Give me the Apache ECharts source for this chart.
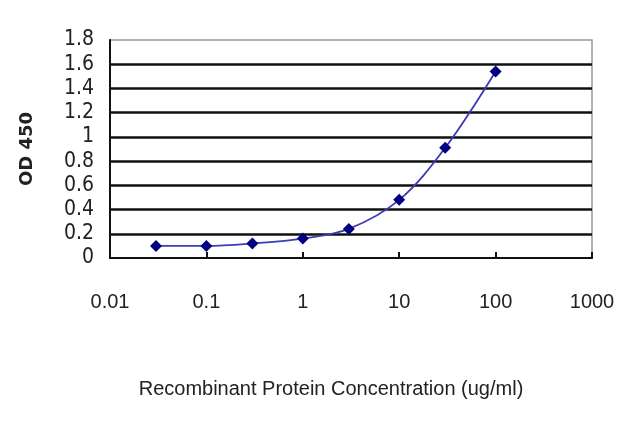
<!DOCTYPE html>
<html>
<head>
<meta charset="utf-8">
<script src="https://cdn.jsdelivr.net/npm/echarts@6/dist/echarts.min.js"></script>
<style>
  html, body { margin: 0; padding: 0; background: #fff; }
  #chart { width: 640px; height: 427px; }
</style>
</head>
<body>
<div id="chart"></div>
<script>
// concentration (ng/ml) and OD 450 readings
const concentrations = [0.03, 0.1, 0.3, 1, 3, 10, 30, 100];
const od450 = [0.10, 0.10, 0.12, 0.16, 0.24, 0.48, 0.91, 1.54];

const xTickLabels = ["0.01", "0.1", "1", "10", "100", "1000"];

const narrow = "'Liberation Sans Narrow', 'DejaVu Sans Condensed', Arial, sans-serif";
const sans = "'Liberation Sans', Arial, sans-serif";

const chart = echarts.init(document.getElementById("chart"));

const option = {
  animation: false,
  grid: {
    left: 110,
    right: 48,
    top: 40,
    bottom: 169,
    show: true,
    borderColor: "#999",
    borderWidth: 1.5,
  },
  xAxis: {
    type: "log",
    logBase: 10,
    min: 0.01,
    max: 1000,
    name: "Recombinant Protein Concentration (ug/ml)",
    nameLocation: "middle",
    nameGap: 121,
    // title sits a little left of the plot centre in the original
    nameTextStyle: { fontFamily: sans, fontSize: 20, color: "#222", padding: [0, 40, 0, 0] },
    axisLine: { show: true, lineStyle: { color: "#111", width: 2 } },
    axisTick: { show: true, inside: true, length: 6, lineStyle: { color: "#111", width: 2 } },
    axisLabel: {
      margin: 34,
      fontFamily: sans,
      fontSize: 20,
      color: "#222",
      formatter: function (v) {
        const i = Math.round(Math.log10(v)) + 2;
        return xTickLabels[i] !== undefined ? xTickLabels[i] : "";
      },
    },
    splitLine: { show: false },
    minorTick: { show: false },
  },
  yAxis: {
    type: "value",
    min: 0,
    max: 1.8,
    interval: 0.2,
    name: "OD 450",
    nameLocation: "middle",
    nameGap: 74,
    nameTextStyle: { fontFamily: "'DejaVu Sans', sans-serif", fontSize: 18, fontWeight: "bold", color: "#222" },
    axisLine: { show: true, lineStyle: { color: "#111", width: 2 } },
    axisTick: { show: false },
    axisLabel: {
      margin: 16,
      fontFamily: narrow,
      fontSize: 21,
      color: "#222",
      formatter: function (v) {
        return String(Math.round(v * 10) / 10);
      },
    },
    splitLine: {
      show: true,
      showMinLine: false,
      showMaxLine: false,
      lineStyle: { color: "#111", width: 2.5 },
    },
  },
  series: [
    {
      type: "line",
      data: concentrations.map((c, i) => [c, od450[i]]),
      smooth: 0.35,
      symbol: "diamond",
      symbolSize: 12,
      itemStyle: { color: "#000080" },
      lineStyle: { color: "#3c3cb4", width: 1.8 },
    },
  ],
};

chart.setOption(option);
</script>
</body>
</html>
